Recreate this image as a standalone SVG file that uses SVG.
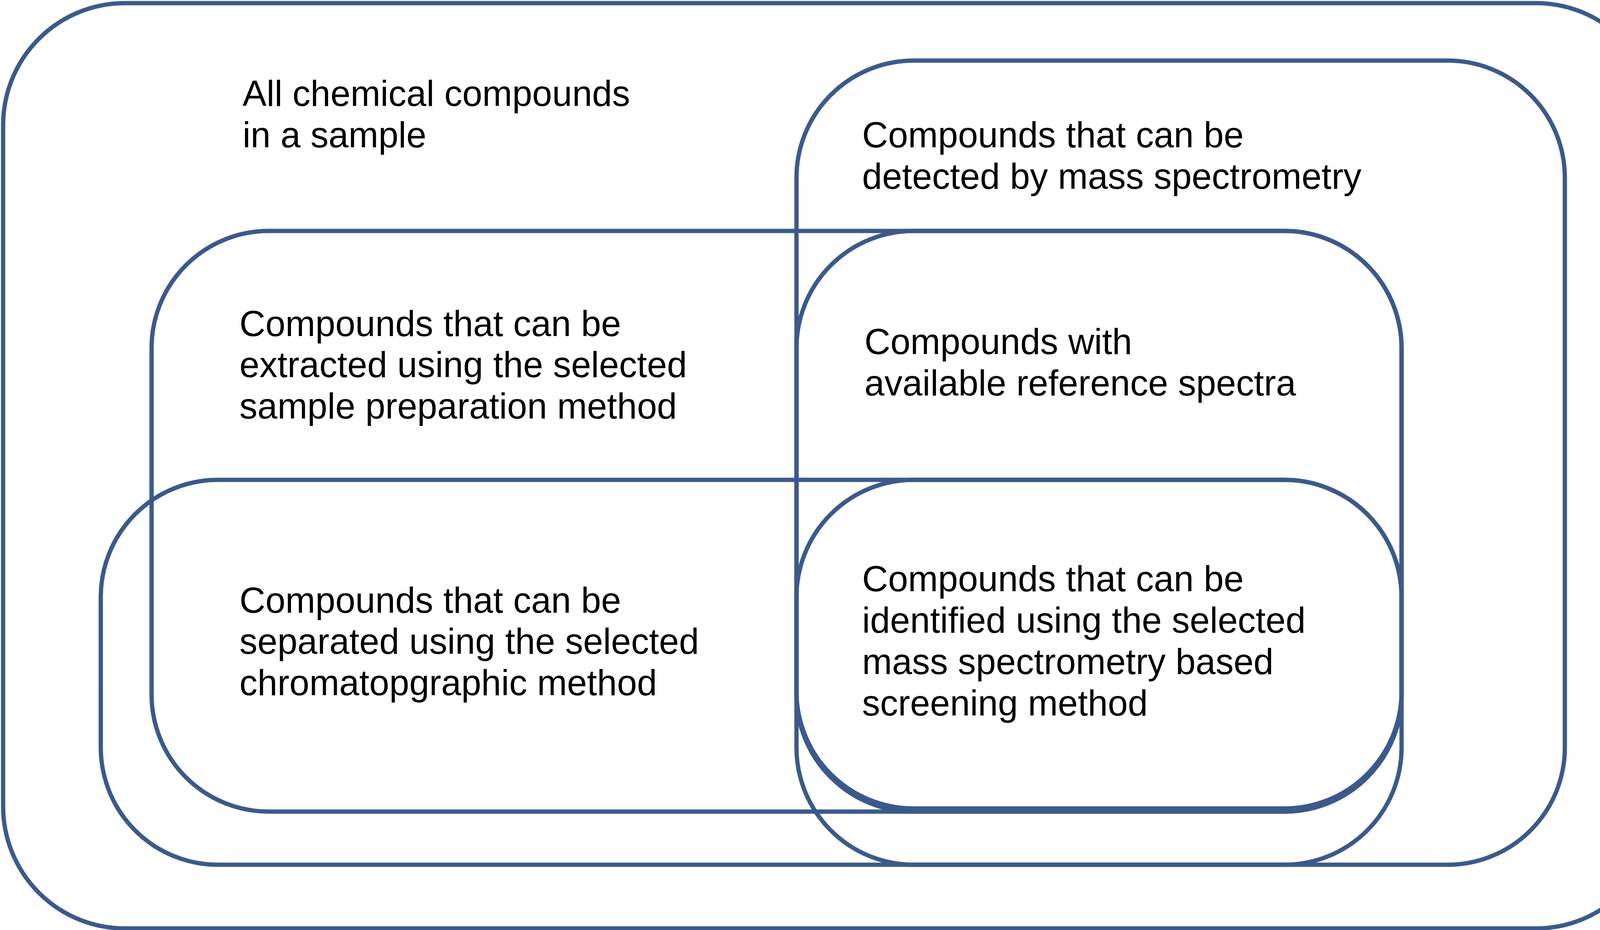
<svg xmlns="http://www.w3.org/2000/svg" width="4252" height="2380" viewBox="0 0 4252 2380">
<style>
.s{fill:none;stroke:#3b5a8a;stroke-width:11}
text{font-family:"Liberation Sans",Arial,sans-serif;font-size:92px;fill:#000}
</style>
<rect width="4252" height="2380" fill="#fff"/>
<g id="all"><rect class="s" x="8" y="8" width="4236" height="2368" rx="312"/>
<text x="621" y="271">All chemical compounds</text><text x="621" y="377">in a sample</text></g>
<g id="ms"><rect class="s" x="2039" y="155" width="1967" height="2058" rx="300"/>
<text x="2207" y="377">Compounds that can be</text><text x="2207" y="483">detected by mass spectrometry</text></g>
<g id="extracted"><rect class="s" x="388" y="591" width="3200" height="1486" rx="300"/>
<text x="613" y="860">Compounds that can be</text><text x="613" y="965">extracted using the selected</text><text x="613" y="1071">sample preparation method</text></g>
<g id="separated"><rect class="s" x="258" y="1228" width="3330" height="985" rx="300"/>
<text x="613" y="1568">Compounds that can be</text><text x="613" y="1673">separated using the selected</text><text x="613" y="1779">chromatopgraphic method</text></g>
<g id="reference"><rect class="s" x="2039" y="591" width="1549" height="1486" rx="300"/>
<text x="2213" y="906">Compounds with</text><text x="2213" y="1012">available reference spectra</text></g>
<g id="identified"><rect class="s" x="2039" y="1228" width="1549" height="841" rx="300"/>
<text x="2207" y="1513">Compounds that can be</text><text x="2207" y="1619">identified using the selected</text><text x="2207" y="1725">mass spectrometry based</text><text x="2207" y="1831">screening method</text></g>
<g id="connectors"/>
</svg>
